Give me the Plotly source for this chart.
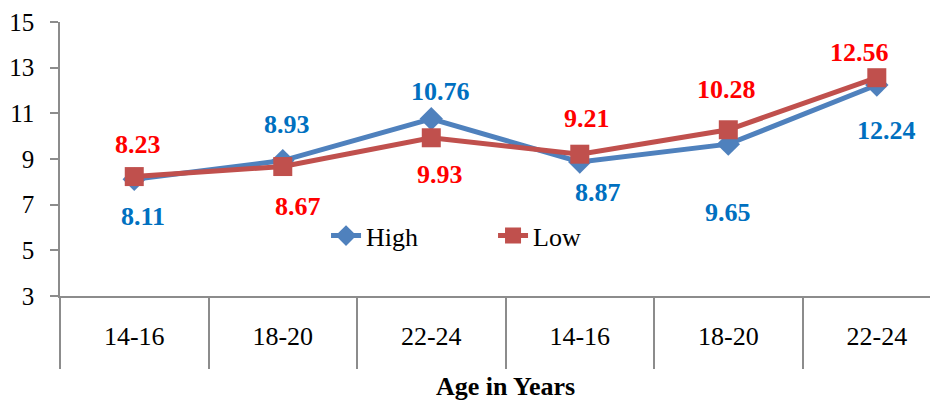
import plotly.graph_objects as go

categories = ["14-16", "18-20", "22-24", "14-16", "18-20", "22-24"]
high = [8.11, 8.93, 10.76, 8.87, 9.65, 12.24]
low = [8.23, 8.67, 9.93, 9.21, 10.28, 12.56]
y_ticks = [3, 5, 7, 9, 11, 13, 15]

xpos = list(range(len(categories)))

BLUE = "#4F81BD"
RED = "#C0504D"
FONT = "Liberation Serif"
AXC = "#8C8C8C"

fig = go.Figure()
fig.add_trace(go.Scatter(x=xpos, y=high, mode="lines+markers", name="High",
                         line=dict(color=BLUE, width=5),
                         marker=dict(symbol="diamond", size=18, color=BLUE)))
fig.add_trace(go.Scatter(x=xpos, y=low, mode="lines+markers", name="Low",
                         line=dict(color=RED, width=5),
                         marker=dict(symbol="square", size=19, color=RED)))

# label offsets (px): (dx, dy) with dy positive upward
high_off = [(9, -37), (4, 36), (9, 27), (18, -31), (0, -68), (10, -45)]
low_off = [(4, 32), (15, -40), (9, -37), (7, 36), (-2, 40), (-17, 25)]

for i, v in enumerate(high):
    dx, dy = high_off[i]
    fig.add_annotation(x=xpos[i], y=v, text=f"<b>{v:.2f}</b>", showarrow=False,
                       xshift=dx, yshift=dy, xanchor="center", yanchor="middle",
                       font=dict(family=FONT, size=26, color="#0070C0"))
for i, v in enumerate(low):
    dx, dy = low_off[i]
    fig.add_annotation(x=xpos[i], y=v, text=f"<b>{v:.2f}</b>", showarrow=False,
                       xshift=dx, yshift=dy, xanchor="center", yanchor="middle",
                       font=dict(family=FONT, size=26, color="#FF0000"))

fig.add_annotation(x=2.5, y=0, xref="x", yref="paper", yshift=-90,
                   xanchor="center", yanchor="middle",
                   text="<b>Age in Years</b>", showarrow=False,
                   font=dict(family=FONT, size=26, color="black"))

fig.update_layout(
    width=930, height=393,
    margin=dict(l=52, r=0, t=14, b=105),
    plot_bgcolor="white", paper_bgcolor="white",
    font=dict(family=FONT, size=26, color="black"),
    showlegend=True,
    legend=dict(orientation="h", x=0.303, y=0.22, xanchor="left", yanchor="middle",
                font=dict(family=FONT, size=26),
                bgcolor="rgba(0,0,0,0)", entrywidth=122, entrywidthmode="pixels"),
    xaxis=dict(range=[-0.5, 5.412], tickmode="array", tickvals=xpos,
               ticktext=categories, ticks="", showgrid=False, zeroline=False,
               showline=True, linecolor=AXC, linewidth=1.5, automargin=False,
               tickfont=dict(family=FONT, size=26), ticklabelstandoff=16,
               minor=dict(tickmode="linear", tick0=-0.5, dtick=1, ticks="outside",
                          ticklen=71, tickcolor=AXC, tickwidth=1.5, showgrid=False)),
    yaxis=dict(range=[3, 15], tickmode="array", tickvals=y_ticks, ticks="outside",
               ticklen=8, tickcolor=AXC, tickwidth=1.5, showgrid=False,
               zeroline=False, showline=True, linecolor=AXC, linewidth=1.5,
               automargin=False,
               tickfont=dict(family=FONT, size=25), ticklabelstandoff=11),
)

fig.write_html("out.html")
